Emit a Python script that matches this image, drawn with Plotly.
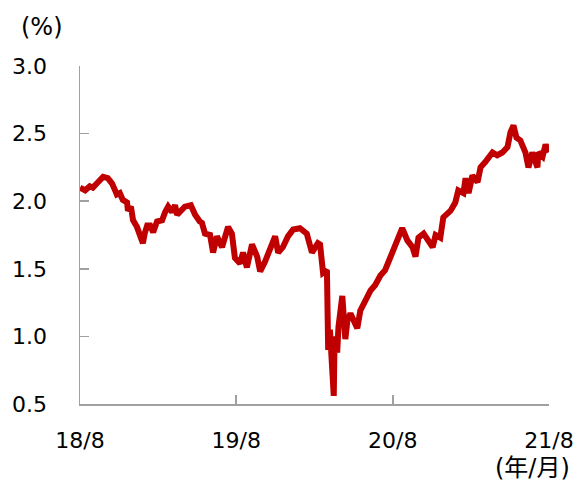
import plotly.graph_objects as go

dates = [
    "2018-08-01", "2018-08-13", "2018-08-24", "2018-08-31", "2018-09-12", "2018-09-24",
    "2018-10-05", "2018-10-15", "2018-10-22", "2018-10-26", "2018-11-02", "2018-11-09",
    "2018-11-19", "2018-11-21", "2018-11-28", "2018-12-03", "2018-12-12", "2018-12-19",
    "2018-12-26", "2018-12-30", "2019-01-05", "2019-01-12", "2019-01-19", "2019-01-28",
    "2019-02-09", "2019-02-16", "2019-02-23", "2019-03-04", "2019-03-11", "2019-03-16",
    "2019-03-25", "2019-04-03", "2019-04-17", "2019-04-27", "2019-05-08", "2019-05-13",
    "2019-05-20", "2019-06-01", "2019-06-08", "2019-06-17", "2019-06-29", "2019-07-13",
    "2019-07-22", "2019-07-29", "2019-08-10", "2019-08-17", "2019-08-26", "2019-09-07",
    "2019-09-19", "2019-09-26", "2019-10-07", "2019-10-19", "2019-10-31", "2019-11-07",
    "2019-11-18", "2019-11-30", "2019-12-12", "2019-12-28", "2020-01-13", "2020-01-25",
    "2020-02-08", "2020-02-13", "2020-02-20", "2020-02-29", "2020-03-03", "2020-03-07",
    "2020-03-10", "2020-03-13", "2020-03-16", "2020-03-18", "2020-03-24", "2020-03-27",
    "2020-04-05", "2020-04-12", "2020-04-17", "2020-04-24", "2020-05-01", "2020-05-10",
    "2020-05-17", "2020-05-29", "2020-06-10", "2020-06-21", "2020-07-03", "2020-07-14",
    "2020-07-26", "2020-08-07", "2020-08-19", "2020-08-23", "2020-09-04", "2020-09-16",
    "2020-09-23", "2020-09-30", "2020-10-12", "2020-10-23", "2020-11-02", "2020-11-09",
    "2020-11-20", "2020-11-27", "2020-12-14", "2020-12-25", "2021-01-01", "2021-01-13",
    "2021-01-18", "2021-01-25", "2021-02-03", "2021-02-15", "2021-02-22", "2021-03-05",
    "2021-03-22", "2021-04-02", "2021-04-14", "2021-04-26", "2021-05-03", "2021-05-10",
    "2021-05-17", "2021-05-26", "2021-06-07", "2021-06-14", "2021-06-23", "2021-07-05",
    "2021-07-07", "2021-07-17", "2021-07-24", "2021-07-31",
]
values = [
    2.10, 2.08, 2.11, 2.10, 2.14, 2.18,
    2.17, 2.13, 2.08, 2.05, 2.06, 2.01,
    1.99, 1.93, 1.96, 1.86, 1.81, 1.75,
    1.69, 1.76, 1.82, 1.82, 1.77, 1.85,
    1.86, 1.92, 1.96, 1.92, 1.97, 1.90,
    1.93, 1.96, 1.97, 1.90, 1.85, 1.84,
    1.76, 1.75, 1.62, 1.74, 1.66, 1.81,
    1.76, 1.58, 1.54, 1.62, 1.51, 1.68,
    1.59, 1.48, 1.55, 1.64, 1.74, 1.62,
    1.66, 1.74, 1.79, 1.80, 1.76, 1.62,
    1.69, 1.68, 1.47, 1.49, 0.90, 1.05,
    0.85, 0.62, 0.56, 1.00, 0.88, 1.07,
    1.30, 0.98, 1.12, 1.17, 1.12, 1.06,
    1.19, 1.26, 1.34, 1.38, 1.45, 1.49,
    1.58, 1.66, 1.75, 1.80, 1.71, 1.66,
    1.59, 1.73, 1.76, 1.71, 1.66, 1.75,
    1.73, 1.88, 1.93, 1.99, 2.08, 2.06,
    2.17, 2.06, 2.19, 2.14, 2.25, 2.29,
    2.36, 2.34, 2.36, 2.40, 2.51, 2.56,
    2.47, 2.45, 2.36, 2.25, 2.36, 2.25,
    2.36, 2.33, 2.42, 2.36,
]

x_tick_vals = ["2018-08-01", "2019-08-01", "2020-08-01", "2021-08-01"]
x_tick_text = ["18/8", "19/8", "20/8", "21/8"]
y_tick_vals = [0.5, 1.0, 1.5, 2.0, 2.5, 3.0]
y_tick_text = ["0.5", "1.0", "1.5", "2.0", "2.5", "3.0"]

font_family = "DejaVu Sans, Verdana, sans-serif"
axis_color = "#A0A0A0"

fig = go.Figure()
fig.add_trace(go.Scatter(
    x=dates, y=values, mode="lines",
    line=dict(color="#C00000", width=6),
    showlegend=False, hoverinfo="skip",
))

fig.update_layout(
    width=580, height=484,
    margin=dict(l=80, r=31, t=66, b=80, autoexpand=False),
    paper_bgcolor="white", plot_bgcolor="white",
    font=dict(family=font_family, size=22, color="#000000"),
    xaxis=dict(
        range=["2018-08-01", "2021-08-01"],
        tickvals=x_tick_vals, ticktext=x_tick_text,
        showgrid=False, zeroline=False, automargin=False,
        showline=True, linecolor=axis_color, linewidth=1.5,
        ticks="inside", ticklen=9, tickcolor=axis_color, tickwidth=1.5,
        ticklabelstandoff=16,
    ),
    yaxis=dict(
        range=[0.5, 3.0],
        tickvals=y_tick_vals, ticktext=y_tick_text,
        showgrid=False, zeroline=False, automargin=False,
        showline=True, linecolor=axis_color, linewidth=1.5,
        ticks="inside", ticklen=9, tickcolor=axis_color, tickwidth=1.5,
        ticklabelstandoff=27,
    ),
    annotations=[
        dict(text="(%)", xref="paper", yref="paper", x=-0.08, y=1.115,
             xanchor="center", yanchor="middle", showarrow=False,
             font=dict(family=font_family, size=24)),
        dict(text="(年/月)", xref="paper", yref="paper", x=1.05, y=-0.236,
             xanchor="right", yanchor="bottom", showarrow=False,
             font=dict(family="DejaVu Sans, Noto Sans CJK JP, sans-serif", size=24)),
    ],
)

fig.write_html(
    "out.html",
    config={"displayModeBar": False, "staticPlot": True},
    post_script="document.body.style.margin='0';",
)
